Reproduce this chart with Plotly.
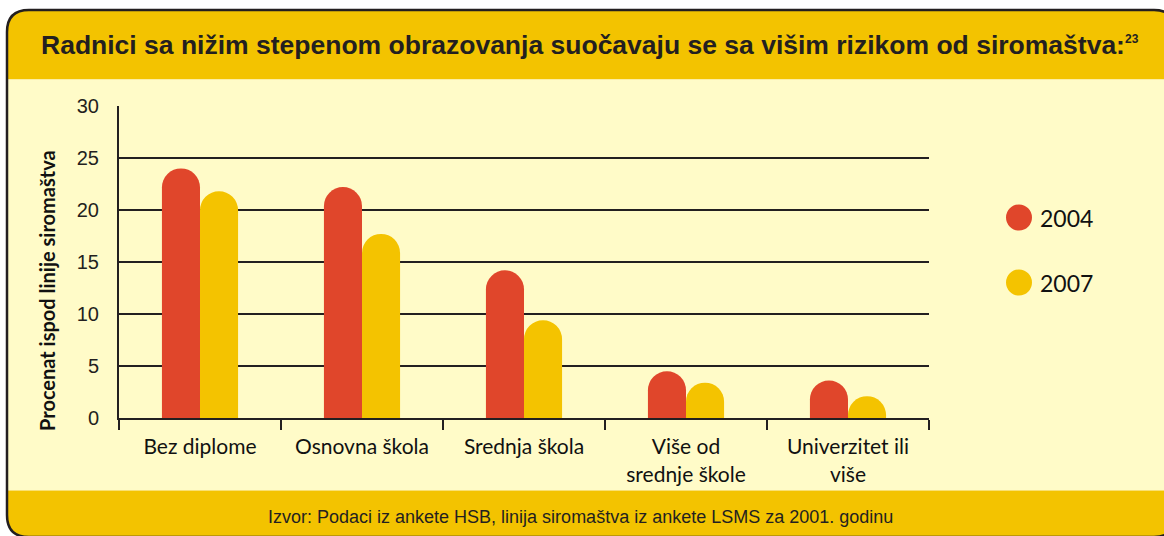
import plotly.graph_objects as go

# ---- data ----
categories = ["Bez diplome", "Osnovna škola", "Srednja škola", "Više od srednje škole", "Univerzitet ili više"]
tick_labels = ["Bez diplome", "Osnovna škola", "Srednja škola", "Više od<br>srednje škole", "Univerzitet ili<br>više"]
series_names = ["2004", "2007"]
values_2004 = [24.0, 22.2, 14.2, 4.5, 3.6]
values_2007 = [21.8, 17.7, 9.4, 3.4, 2.1]
y_ticks = [0, 5, 10, 15, 20, 25, 30]

title_text = ("Radnici sa nižim stepenom obrazovanja suočavaju se sa višim rizikom od siromaštva:"
              "<sup><span style='font-size:12px'>23</span></sup>")
yaxis_title = "Procenat ispod linije siromaštva"
source_text = "Izvor: Podaci iz ankete HSB, linija siromaštva iz ankete LSMS za 2001. godinu"

# ---- style ----
RED = "#E0462B"
YELLOW = "#F4C300"
BAND = "#F3C300"
CREAM = "#FFFBC8"
DARK = "#231F20"

W, H = 1164, 536
L, R, T, B = 119, 929, 106, 418


def px(x):
    return (x - L) / (R - L)


def py(y):
    return (B - y) / (B - T)


def P(x, y):
    return f"{px(x):.5f},{py(y):.5f}"


fig = go.Figure()
for name, vals, col in [(series_names[0], values_2004, RED), (series_names[1], values_2007, YELLOW)]:
    fig.add_trace(go.Bar(x=categories, y=vals, name=name, marker=dict(color=col, line=dict(width=0)),
                         showlegend=False, hoverinfo="x+y+name"))

left, right, top, bot, rad = 7, 1176, 10, 537, 22
band_top_bottom = 79.5
footer_top = 490.5

shapes = []
# title band
shapes.append(dict(type="path", xref="paper", yref="paper", layer="below",
                   path=f"M{P(left, band_top_bottom)} L{P(left, top + rad)} Q{P(left, top)} {P(left + rad, top)} "
                        f"L{P(right - rad, top)} Q{P(right, top)} {P(right, top + rad)} L{P(right, band_top_bottom)} Z",
                   fillcolor=BAND, line=dict(width=0)))
# cream body
shapes.append(dict(type="rect", xref="paper", yref="paper", layer="below",
                   x0=px(left), x1=px(right), y0=py(footer_top), y1=py(band_top_bottom),
                   fillcolor=CREAM, line=dict(width=0)))
# footer band
shapes.append(dict(type="path", xref="paper", yref="paper", layer="below",
                   path=f"M{P(left, footer_top)} L{P(right, footer_top)} L{P(right, bot - rad)} Q{P(right, bot)} {P(right - rad, bot)} "
                        f"L{P(left + rad, bot)} Q{P(left, bot)} {P(left, bot - rad)} Z",
                   fillcolor=BAND, line=dict(width=0)))
# frame outline
shapes.append(dict(type="path", xref="paper", yref="paper", layer="below",
                   path=f"M{P(left, top + rad)} Q{P(left, top)} {P(left + rad, top)} L{P(right - rad, top)} Q{P(right, top)} {P(right, top + rad)} "
                        f"L{P(right, bot - rad)} Q{P(right, bot)} {P(right - rad, bot)} L{P(left + rad, bot)} Q{P(left, bot)} {P(left, bot - rad)} Z",
                   fillcolor="rgba(0,0,0,0)", line=dict(color=DARK, width=2.5)))

annotations = []
# legend (circles + labels)
legend_y = [217.5, 282.5]
for name, col, ly in zip(series_names, [RED, YELLOW], legend_y):
    shapes.append(dict(type="circle", xref="paper", yref="paper", layer="above",
                       x0=px(1006), x1=px(1032), y0=py(ly + 13), y1=py(ly - 13),
                       fillcolor=col, line=dict(width=0)))
    annotations.append(dict(text=name, xref="paper", yref="paper", x=px(1038), y=py(ly),
                            xanchor="left", yanchor="middle", showarrow=False,
                            font=dict(family="Lato", size=23, color="#111111")))

# title
annotations.append(dict(text=title_text, xref="paper", yref="paper", x=px(39), y=py(45),
                        xanchor="left", yanchor="middle", showarrow=False,
                        font=dict(family="Liberation Sans", size=26.5, color=DARK, weight="bold")))
# source
annotations.append(dict(text=source_text, xref="paper", yref="paper", x=px(580), y=py(517),
                        xanchor="center", yanchor="middle", showarrow=False,
                        font=dict(family="Liberation Sans", size=18, color=DARK)))
# y-axis title
annotations.append(dict(text=yaxis_title, xref="paper", yref="paper", x=px(47), y=py(291),
                        xanchor="center", yanchor="middle", showarrow=False, textangle=-90,
                        font=dict(family="Lato", size=20, color="#111111", weight="bold")))

fig.update_layout(
    width=W, height=H,
    margin=dict(l=L, r=W - R, t=T, b=H - B, pad=0),
    paper_bgcolor="white",
    plot_bgcolor="rgba(0,0,0,0)",
    barmode="group",
    bargap=0.53,
    bargroupgap=0,
    barcornerradius="50%",
    shapes=shapes,
    annotations=annotations,
    showlegend=False,
    xaxis=dict(
        tickmode="array", tickvals=categories, ticktext=tick_labels,
        showline=True, linecolor=DARK, linewidth=2,
        ticks="outside", tickson="boundaries", ticklen=10, tickwidth=2, tickcolor=DARK,
        ticklabelstandoff=9,
        tickfont=dict(family="Lato", size=21, color="#111111"),
        showgrid=False, zeroline=False, range=[-0.5, 4.5],
    ),
    yaxis=dict(
        range=[0, 30], tickvals=y_ticks,
        showline=True, linecolor=DARK, linewidth=2,
        showgrid=True, gridcolor=DARK, gridwidth=1.8,
        zeroline=False, ticks="", ticklabelstandoff=14,
        tickfont=dict(family="Liberation Sans", size=20, color=DARK),
    ),
)

fig.write_html("out.html", config={"displayModeBar": False},
               post_script="document.body.style.margin='0';document.body.style.overflow='hidden';")
